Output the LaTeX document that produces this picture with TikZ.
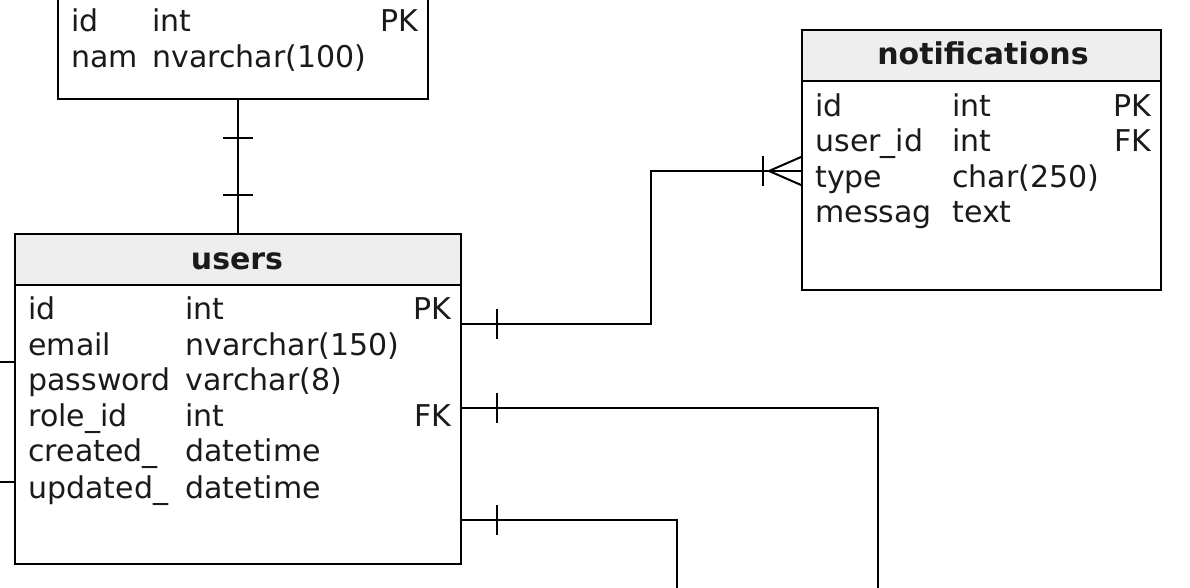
\documentclass[tikz,border=0pt]{standalone}
\usepackage{fontspec}
\setmainfont{DejaVu Sans}
\usetikzlibrary{positioning,calc}
\definecolor{headgray}{HTML}{EEEEEE}
\definecolor{ink}{HTML}{1A1A1A}
\tikzset{
tblhead/.style = {draw, line width=1pt, fill=headgray, rectangle, anchor=north west, inner sep=0pt},
tblbody/.style = {draw, line width=1pt, fill=white, rectangle, anchor=north west, inner sep=0pt},
title/.style = {anchor=base, inner sep=0pt, font=\fontsize{15}{18}\selectfont\bfseries},
fld/.style = {anchor=base west, inner sep=0pt},
key/.style = {anchor=base east, inner sep=0pt},
link/.style = {line width=1pt},
tick/.style = {line width=1pt}
}

\begin{document}
\begin{tikzpicture}[x=0.5pt, y=-0.5pt, font=\fontsize{15}{18}\selectfont, text=ink]
  \useasboundingbox (0,0) rectangle (1190,588);

  % roles (cut at the top)
  \node [tblbody, minimum width=185pt, minimum height=64pt] (roles-b) at (57,-30) {};
  \node [fld] (rname1) at (71,32)  {id};
  \node [fld] (rtype1) at (152,32) {int};
  \node [key] (rkey1)  at (419,32) {PK};
  \node [fld] (rname2) at (71,68)  {nam};
  \node [fld] (rtype2) at (152,68) {nvarchar(100)};

  % users
  \node [tblbody, minimum width=223pt, minimum height=139.5pt] (users-b) at (14,284) {};
  \node [tblhead, minimum width=223pt, minimum height=25.5pt] (users-h) at (14,233) {};
  \node [title] (users-t) at (237,270) {users};
  \node [fld] (uname1) at (28,320)  {id};
  \node [fld] (utype1) at (185,320) {int};
  \node [key] (ukey1)  at (452,320) {PK};
  \node [fld] (uname2) at (28,356)  {email};
  \node [fld] (utype2) at (185,356) {nvarchar(150)};
  \node [fld] (uname3) at (28,391)  {password};
  \node [fld] (utype3) at (185,391) {varchar(8)};
  \node [fld] (uname4) at (28,427)  {role\_id};
  \node [fld] (utype4) at (185,427) {int};
  \node [key] (ukey4)  at (452,427) {FK};
  \node [fld] (uname5) at (28,462)  {created\_};
  \node [fld] (utype5) at (185,462) {datetime};
  \node [fld] (uname6) at (28,498)  {updated\_};
  \node [fld] (utype6) at (185,498) {datetime};

  % notifications
  \node [tblbody, minimum width=179.5pt, minimum height=104.5pt] (notif-b) at (801,80) {};
  \node [tblhead, minimum width=179.5pt, minimum height=25.5pt] (notif-h) at (801,29) {};
  \node [title] (notif-t) at (983,65) {notifications};
  \node [fld] (nname1) at (815,117) {id};
  \node [fld] (ntype1) at (952,117) {int};
  \node [key] (nkey1)  at (1152,117) {PK};
  \node [fld] (nname2) at (815,152) {user\_id};
  \node [fld] (ntype2) at (952,152) {int};
  \node [key] (nkey2)  at (1152,152) {FK};
  \node [fld] (nname3) at (815,188) {type};
  \node [fld] (ntype3) at (952,188) {char(250)};
  \node [fld] (nname4) at (815,223) {messag};
  \node [fld] (ntype4) at (952,223) {text};

  % connector ends
  \coordinate (u1) at (460,324);
  \coordinate (u2) at (460,408);
  \coordinate (u3) at (460,520);
  \coordinate (nb) at (651,171);
  \coordinate (n1) at (801,171);
  \coordinate (e2) at (878,588);
  \coordinate (e3) at (677,588);
  \coordinate (l1) at (0,362);
  \coordinate (l2) at (0,482);

  % roles -- users
  \draw [link] (users-h.north) -- (users-h.north |- roles-b.south);
  \draw [tick] ($(users-h.north)+(-15,-38)$) -- ++(30,0);
  \draw [tick] ($(users-h.north |- roles-b.south)+(-15,38)$) -- ++(30,0);

  % users -- notifications
  \draw [link] (u1) -| (nb) -- (n1);
  \draw [tick] ($(u1)+(37,-15)$) -- ++(0,30);
  \draw [tick] ($(n1)+(-38,-15)$) -- ++(0,30);
  \draw [link] ($(n1)+(-32,0)$) -- ($(n1)+(0,-14)$);
  \draw [link] ($(n1)+(-32,0)$) -- ($(n1)+(0,14)$);

  % users -- off the page
  \draw [link] (u2) -| (e2);
  \draw [tick] ($(u2)+(37,-15)$) -- ++(0,30);
  \draw [link] (u3) -| (e3);
  \draw [tick] ($(u3)+(37,-15)$) -- ++(0,30);
  \draw [link] (l1) -- (l1 -| users-b.west);
  \draw [link] (l2) -- (l2 -| users-b.west);
\end{tikzpicture}
\end{document}
